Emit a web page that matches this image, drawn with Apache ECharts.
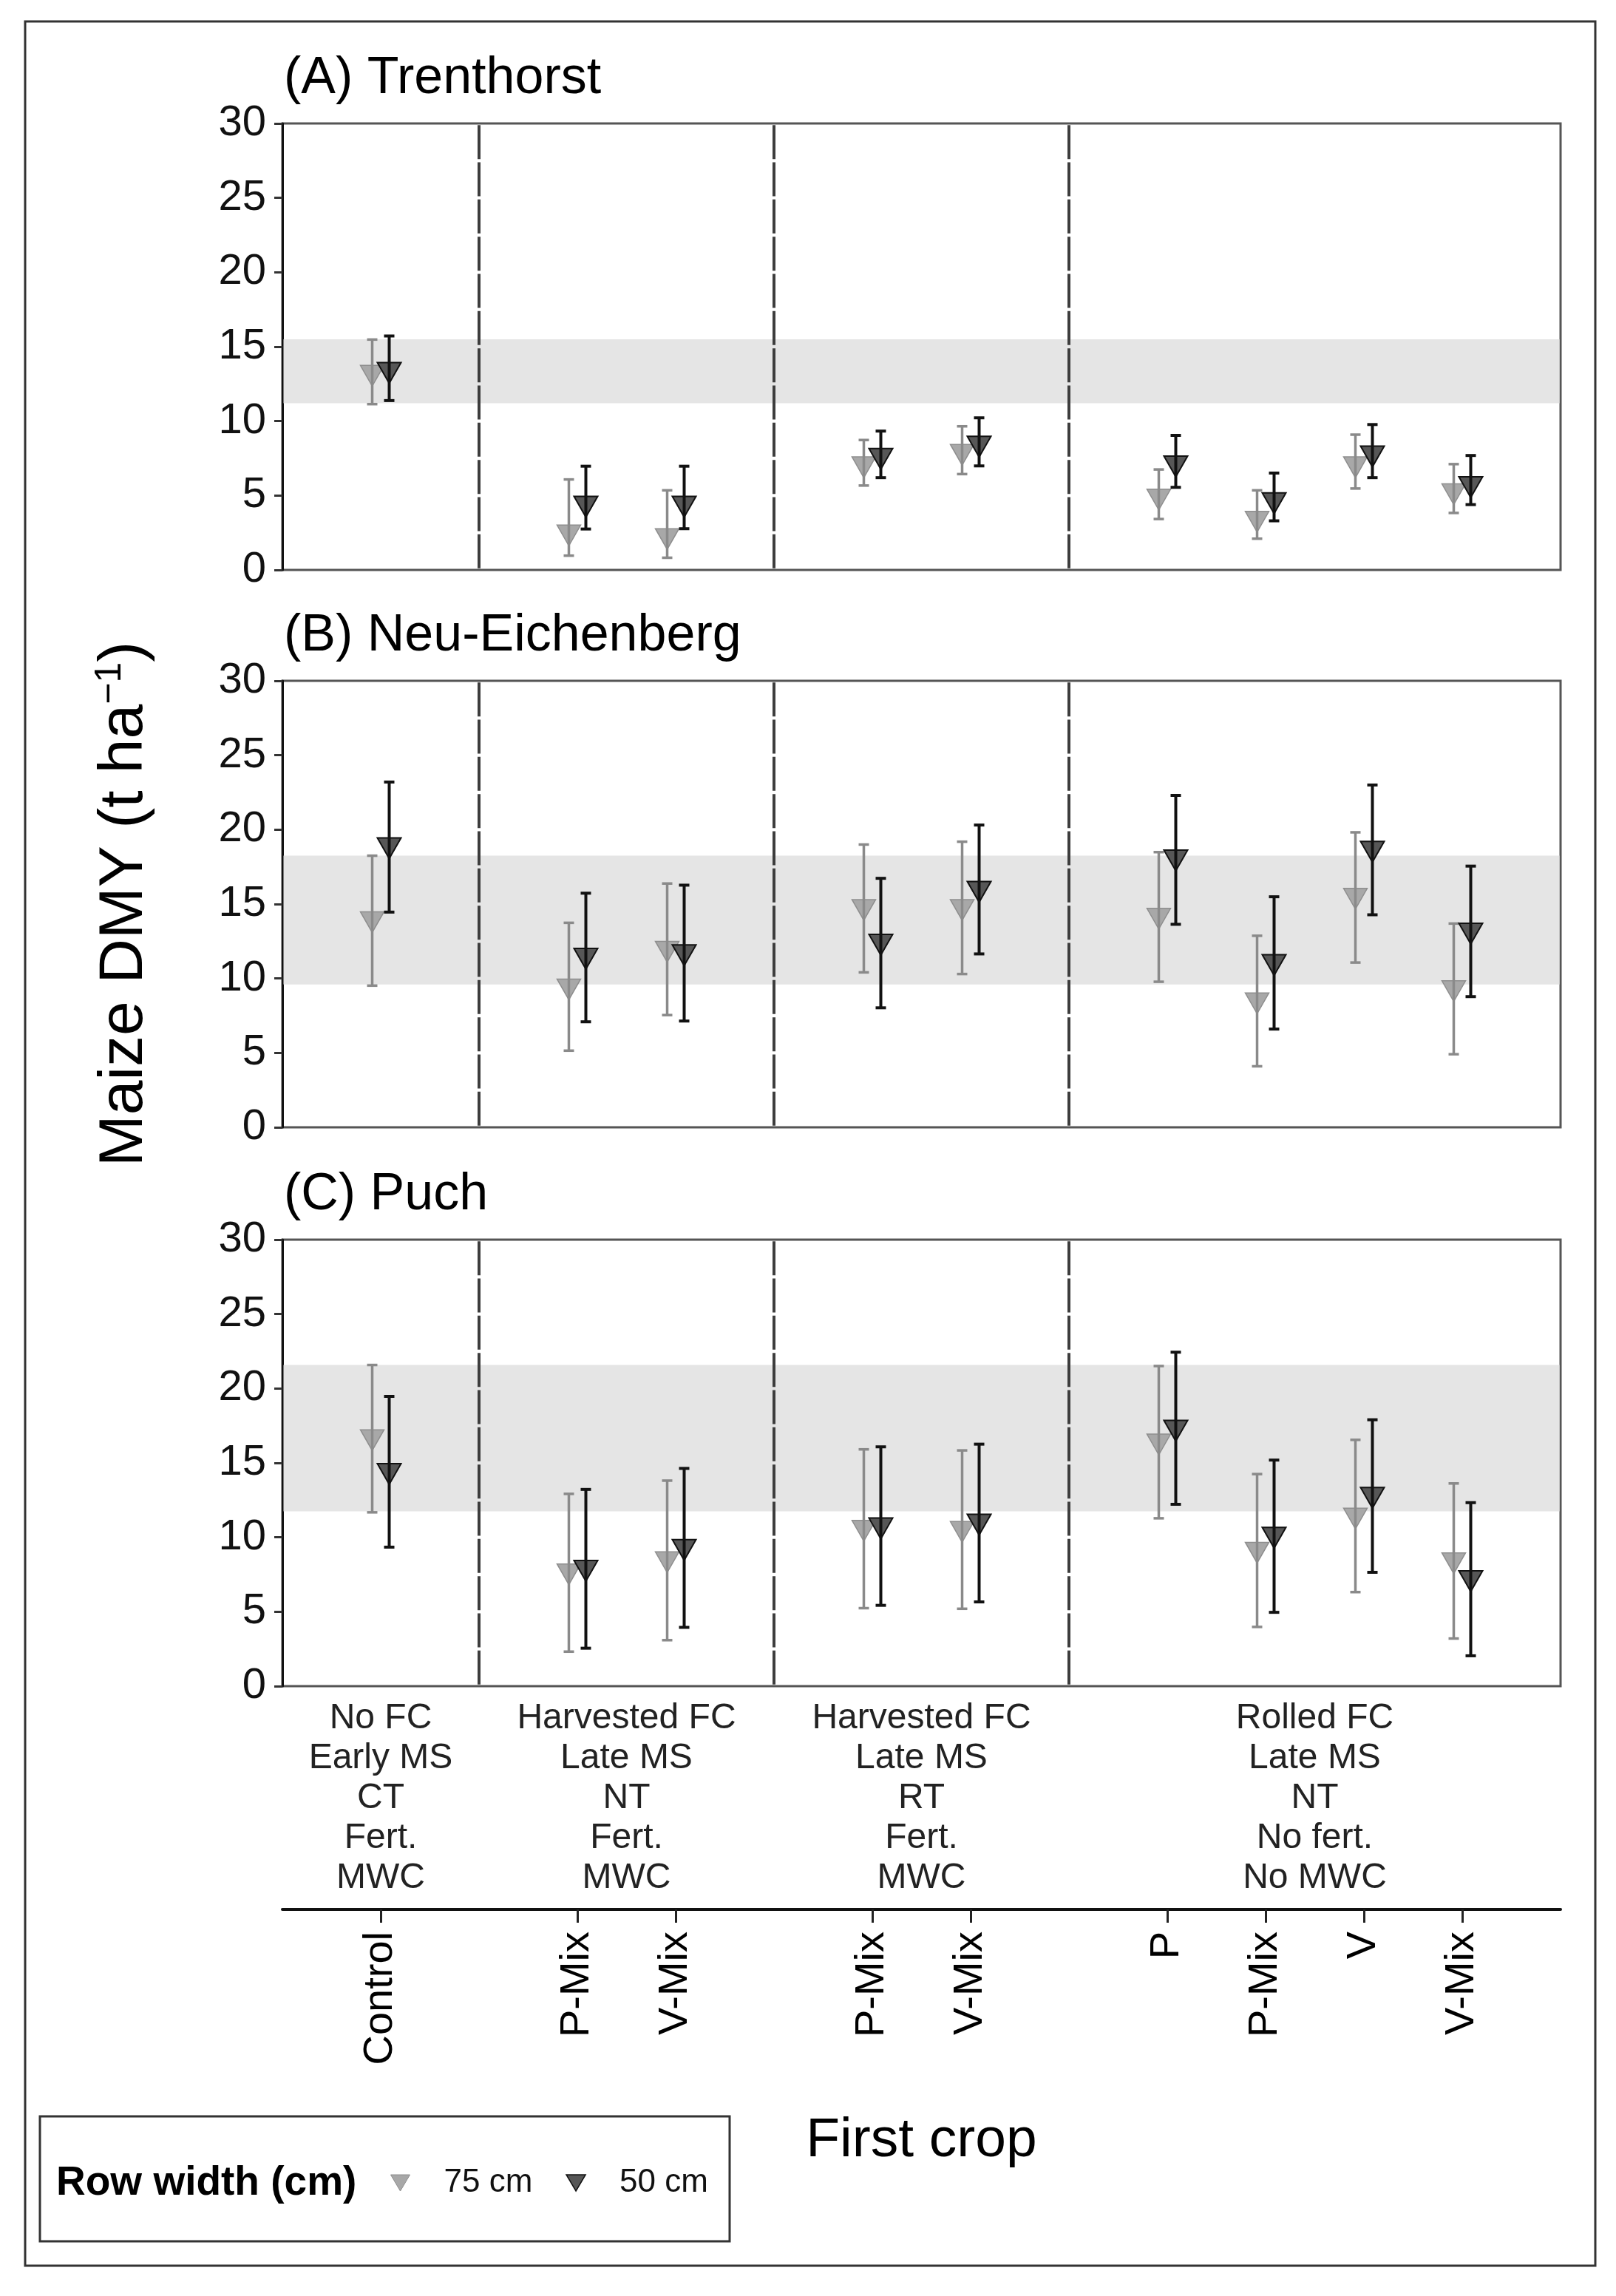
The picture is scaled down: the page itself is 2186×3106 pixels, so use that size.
<!DOCTYPE html>
<html>
<head>
<meta charset="utf-8">
<script src="https://cdn.jsdelivr.net/npm/echarts@6/dist/echarts.min.js"></script>
<style>html,body{margin:0;padding:0;background:#fff}#c{width:2186px;height:3106px}</style>
</head>
<body>
<div id="c"></div>
<script>
// ---------------- data ----------------
const sites = ['(A) Trenthorst', '(B) Neu-Eichenberg', '(C) Puch'];
const groupLabels = [
  'No FC\nEarly MS\nCT\nFert.\nMWC',
  'Harvested FC\nLate MS\nNT\nFert.\nMWC',
  'Harvested FC\nLate MS\nRT\nFert.\nMWC',
  'Rolled FC\nLate MS\nNT\nNo fert.\nNo MWC'
];
const groupMembers = [
  ['Control'],
  ['P-Mix', 'V-Mix'],
  ['P-Mix', 'V-Mix'],
  ['P', 'P-Mix', 'V', 'V-Mix']
];
const rowWidths = ['75 cm', '50 cm'];
const yTickMax = 30, yTickStep = 5;

// control range band (grey) per site
const bandLow  = [11.2, 9.6, 11.75];
const bandHigh = [15.5, 18.25, 21.58];

// order: Control, Harv-NT P-Mix, Harv-NT V-Mix, Harv-RT P-Mix, Harv-RT V-Mix, Rolled P, Rolled P-Mix, Rolled V, Rolled V-Mix
const trent75Mean = [13.28, 2.55, 2.31, 7.13, 7.97, 4.96, 3.47, 7.13, 5.32];
const trent75Low  = [11.14, 0.96, 0.82, 5.67, 6.44, 3.42, 2.10, 5.47, 3.83];
const trent75High = [15.48, 6.08, 5.35, 8.73, 9.65, 6.75, 5.35, 9.09, 7.11];
const trent50Mean = [13.47, 4.48, 4.48, 7.69, 8.51, 7.18, 4.72, 7.85, 5.80];
const trent50Low  = [11.38, 2.75, 2.77, 6.20, 6.99, 5.55, 3.30, 6.20, 4.39];
const trent50High = [15.72, 6.97, 6.97, 9.33, 10.22, 9.04, 6.51, 9.77, 7.69];

const neu75Mean = [14.02, 9.50, 12.03, 14.84, 14.84, 14.25, 8.56, 15.59, 9.38];
const neu75Low  = [9.52, 5.15, 7.54, 10.41, 10.30, 9.78, 4.10, 11.07, 4.91];
const neu75High = [18.25, 13.74, 16.38, 19.00, 19.19, 18.49, 12.87, 19.82, 13.69];
const neu50Mean = [18.98, 11.56, 11.79, 12.50, 16.05, 18.16, 11.14, 18.75, 13.25];
const neu50Low  = [14.46, 7.09, 7.14, 8.03, 11.65, 13.64, 6.60, 14.28, 8.78];
const neu50High = [23.20, 15.73, 16.27, 16.73, 20.31, 22.30, 15.49, 23.00, 17.55];

const puch75Mean = [16.76, 7.75, 8.56, 10.67, 10.60, 16.47, 9.20, 11.49, 8.49];
const puch75Low  = [11.68, 2.32, 3.09, 5.24, 5.20, 11.28, 3.98, 6.32, 3.20];
const puch75High = [21.58, 12.92, 13.81, 15.91, 15.84, 21.51, 14.25, 16.55, 13.62];
const puch50Mean = [14.49, 7.98, 9.38, 10.83, 11.09, 17.39, 10.20, 12.89, 7.28];
const puch50Low  = [9.34, 2.55, 3.95, 5.43, 5.66, 12.22, 4.96, 7.65, 2.04];
const puch50High = [19.47, 13.22, 14.63, 16.08, 16.26, 22.44, 15.19, 17.90, 12.33];

// ---------------- derived layout on the x scale ----------------
const catPos = [], catNames = [], groupCenters = [], separators = [];
(function () {
  let p = 0;
  groupMembers.forEach(function (m) {
    const start = p;
    m.forEach(function (n) { catPos.push(p); catNames.push(n); p++; });
    groupCenters.push((start + p - 1) / 2);
    separators.push(p);
    p++;
  });
})();
const xMin = -1;
const xMax = separators[separators.length - 1];
const dividers = separators.slice(0, -1);

const siteData = [
  [[trent75Mean, trent75Low, trent75High], [trent50Mean, trent50Low, trent50High]],
  [[neu75Mean, neu75Low, neu75High], [neu50Mean, neu50Low, neu50High]],
  [[puch75Mean, puch75Low, puch75High], [puch50Mean, puch50Low, puch50High]]
];

// ---------------- styles ----------------
const FONT = '"Liberation Sans", Arial, Helvetica, sans-serif';
const GRID_LEFT = 382, GRID_W = 1729, GRID_H = 604;
const gridTops = [167, 921, 1677];
const styles = [
  { offset: -11.5, fill: '#a8a8a8', stroke: '#8e8e8e', triW: 1.5, bar: '#8a8a8a', barW: 3.5 },
  { offset: 11.5, fill: '#575757', stroke: '#111111', triW: 2, bar: '#111111', barW: 4 }
];
const TRI_W = 32, TRI_H = 28, CAP = 14;

function errorRender(st) {
  return function (params, api) {
    const x = api.value(0), m = api.value(1), lo = api.value(2), hi = api.value(3);
    const c = api.coord([x, m]);
    const pl = api.coord([x, lo]);
    const ph = api.coord([x, hi]);
    const cx = c[0] + st.offset;
    const cy = c[1];
    return {
      type: 'group',
      children: [
        { type: 'polygon',
          shape: { points: [[cx - TRI_W / 2, cy - TRI_H / 3], [cx + TRI_W / 2, cy - TRI_H / 3], [cx, cy + 2 * TRI_H / 3]] },
          style: { fill: st.fill, stroke: st.stroke, lineWidth: st.triW } },
        { type: 'line', shape: { x1: cx, y1: pl[1], x2: cx, y2: ph[1] },
          style: { stroke: st.bar, lineWidth: st.barW } },
        { type: 'line', shape: { x1: cx - CAP / 2, y1: pl[1], x2: cx + CAP / 2, y2: pl[1] },
          style: { stroke: st.bar, lineWidth: st.barW } },
        { type: 'line', shape: { x1: cx - CAP / 2, y1: ph[1], x2: cx + CAP / 2, y2: ph[1] },
          style: { stroke: st.bar, lineWidth: st.barW } }
      ]
    };
  };
}

function bandRender(params, api) {
  const cs = params.coordSys;
  const top = api.coord([0, api.value(1)])[1];
  const bot = api.coord([0, api.value(0)])[1];
  return { type: 'rect', shape: { x: cs.x + 1.5, y: top, width: cs.width - 3, height: bot - top },
           style: { fill: '#e5e5e5' } };
}

function dividerRender(params, api) {
  const x = api.value(0);
  const b = api.coord([x, 0]);
  const t = api.coord([x, yTickMax]);
  const len = b[1] - t[1];
  const step = len / (2 * yTickMax / yTickStep);
  const gap = 4.3, dash = step - gap;
  return { type: 'line', shape: { x1: b[0], y1: b[1], x2: t[0], y2: t[1] },
           style: { stroke: '#3d3d3d', lineWidth: 4, lineDash: [dash, gap], lineDashOffset: dash + gap / 2 } };
}

// ---------------- option ----------------
const grids = [], xAxes = [], yAxes = [], series = [], titles = [];
gridTops.forEach(function (top, i) {
  grids.push({ left: GRID_LEFT, top: top, width: GRID_W, height: GRID_H, show: true,
               borderColor: '#555', borderWidth: 3, backgroundColor: 'transparent', containLabel: false, outerBoundsMode: 'none' });
  const isLast = i === gridTops.length - 1;
  xAxes.push({
    type: 'value', gridIndex: i, min: xMin, max: xMax, interval: 0.5,
    show: isLast,
    axisLine: { show: false, onZero: false }, axisTick: { show: false }, splitLine: { show: false },
    axisLabel: {
      show: isLast, interval: 0, margin: 17, fontSize: 48, lineHeight: 54, color: '#222', fontFamily: FONT,
      showMinLabel: true, showMaxLabel: true, hideOverlap: false,
      formatter: function (v) {
        for (let k = 0; k < groupCenters.length; k++) if (Math.abs(groupCenters[k] - v) < 1e-6) return groupLabels[k];
        return '';
      }
    }
  });
  const y = {
    type: 'value', gridIndex: i, min: 0, max: yTickMax, interval: yTickStep,
    axisLine: { show: true, onZero: false, lineStyle: { color: '#111', width: 3 } },
    axisTick: { show: true, length: 11, lineStyle: { color: '#333', width: 3 } },
    axisLabel: { fontSize: 58, color: '#111', margin: 22, fontFamily: FONT },
    splitLine: { show: false }
  };
  if (i === 1) {
    y.name = '{a|Maize DMY (t ha}{s|−1}{a|)}';
    y.nameLocation = 'middle';
    y.nameRotate = 90;
    y.nameGap = 213;
    y.nameTextStyle = { fontFamily: FONT, color: '#000', verticalAlign: 'middle',
      rich: { a: { fontSize: 84, fontFamily: FONT, color: '#000' },
              s: { fontSize: 50, fontFamily: FONT, color: '#000', padding: [0, 0, 40, 0] } } };
  }
  yAxes.push(y);
  titles.push({ text: sites[i], left: 384, top: top - 95, padding: 0,
                textStyle: { fontSize: 70, fontWeight: 'normal', fontFamily: FONT, color: '#000', lineHeight: 70 } });

  series.push({ type: 'custom', name: 'band' + i, xAxisIndex: i, yAxisIndex: i, z: 1, silent: true,
                data: [[bandLow[i], bandHigh[i]]], renderItem: bandRender, encode: { x: -1, y: [0, 1] } });
  series.push({ type: 'custom', name: 'div' + i, xAxisIndex: i, yAxisIndex: i, z: 2, silent: true,
                data: dividers.map(function (d) { return [d]; }), renderItem: dividerRender, encode: { x: 0 } });
  rowWidths.forEach(function (rw, r) {
    const arr = siteData[i][r];
    series.push({
      type: 'custom', name: rw, xAxisIndex: i, yAxisIndex: i, z: 3 + r,
      itemStyle: { color: styles[r].fill, borderColor: styles[r].stroke },
      data: catPos.map(function (p, k) { return [p, arr[0][k], arr[1][k], arr[2][k]]; }),
      encode: { x: 0, y: 1 },
      renderItem: errorRender(styles[r])
    });
  });
});

// bottom treatment axis
grids.push({ left: GRID_LEFT, top: 2483, width: GRID_W, height: 100, show: false, containLabel: false, outerBoundsMode: 'none' });
xAxes.push({
  type: 'value', gridIndex: 3, min: xMin, max: xMax, interval: 1,
  axisLine: { show: true, onZero: false, lineStyle: { color: '#111', width: 4 } },
  axisTick: { show: true, customValues: catPos, length: 18, lineStyle: { color: '#222', width: 3 } },
  axisLabel: { customValues: catPos, rotate: 90, fontSize: 56, margin: 30, color: '#000', fontFamily: FONT,
               formatter: function (v) { const k = catPos.indexOf(v); return k >= 0 ? catNames[k] : ''; } },
  splitLine: { show: false },
  name: 'First crop', nameLocation: 'middle', nameGap: 313,
  nameTextStyle: { fontSize: 75, fontFamily: FONT, color: '#000', verticalAlign: 'middle' }
});
yAxes.push({ type: 'value', gridIndex: 3, show: false, min: 0, max: 1, splitLine: { show: false } });

const option = {
  backgroundColor: '#ffffff',
  animation: false,
  title: titles,
  grid: grids,
  xAxis: xAxes,
  yAxis: yAxes,
  series: series,
  legend: {
    left: 528, top: 2931, orient: 'horizontal', padding: 0,
    itemWidth: 28, itemHeight: 22, itemGap: 45, selectedMode: false,
    textStyle: { fontSize: 44, color: '#111', fontFamily: FONT, padding: [0, 0, 0, 40] },
    data: rowWidths.map(function (rw, r) {
      return { name: rw, icon: 'path://M0,0L26,0L13,22Z',
               itemStyle: { color: styles[r].fill, borderColor: styles[r].stroke, borderWidth: r ? 1.5 : 1 } };
    })
  },
  graphic: [
    { type: 'rect', shape: { x: 34, y: 29, width: 2124, height: 3036 },
      style: { fill: 'none', stroke: '#333', lineWidth: 3 }, silent: true },
    { type: 'rect', shape: { x: 54, y: 2863, width: 933, height: 169 },
      style: { fill: 'none', stroke: '#333', lineWidth: 3 }, silent: true },
    { type: 'text', x: 76, y: 2954,
      style: { text: 'Row width (cm)', fontSize: 55, fontWeight: 'bold', fontFamily: FONT, fill: '#000', verticalAlign: 'middle' } }
  ]
};

const chart = echarts.init(document.getElementById('c'), null, { renderer: 'canvas', width: 2186, height: 3106 });
chart.setOption(option);
</script>
</body>
</html>
